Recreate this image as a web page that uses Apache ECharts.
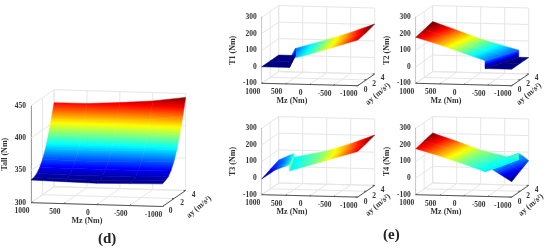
<!DOCTYPE html>
<html>
<head>
<meta charset="utf-8">
<style>html,body{margin:0;padding:0;background:#fff;overflow:hidden}#c{width:550px;height:250px;filter:blur(0.4px)}</style>
<script src="https://cdn.jsdelivr.net/npm/echarts@6/dist/echarts.min.js"></script>
</head>
<body>
<div id="c"></div>
<script>
// ---- tick labels ----
const mzTicks = [1000, 500, 0, -500, -1000];
const ayTicks = [0, 2, 4];
const tallTicks = [300, 350, 400, 450];
const torqueTicks = [-100, 0, 100, 200, 300];

// ---- panel (d): Tall(ay rows, Mz columns) ----
const tallAy = [0, 0.5, 1, 1.5, 2, 2.5, 3, 3.5, 4];
const tallMz = [1000, 500, 0, -500, -1000];
const tallValues = [
  [335, 334, 333, 334, 335],
  [336, 335, 334, 335, 337],
  [339, 338, 338, 338, 340],
  [345, 345, 345, 345, 347],
  [355, 354, 354, 355, 358],
  [368, 368, 368, 370, 373],
  [386, 386, 387, 389, 393],
  [407, 407, 408, 411, 417],
  [430, 430, 433, 437, 444]
];

// ---- panels (e): wheel torques, rows follow ay, repeated Mz marks the step ----
const wheelAy = [0, 2, 4];
const t1Mz = [
  [1000, 420, 420, 0, -500, -1000],
  [1000, 535, 535, 0, -500, -1000],
  [1000, 650, 650, 0, -500, -1000]
];
const t1Values = [
  [0, 0, 50, 84, 130, 177],
  [0, 0, 45, 90, 137, 187],
  [0, 0, 43, 100, 148, 203]
];
const t2Mz = [
  [1000, 500, 0, -444, -444, -1000],
  [1000, 500, 0, -620, -620, -1000],
  [1000, 500, 0, -792, -792, -1000]
];
const t2Values = [
  [179, 137, 90, 48, 0, 0],
  [190, 145, 97, 46, 0, 0],
  [203, 155, 105, 43, 0, 0]
];
const t3Mz = [
  [1000, 720, 424, 424, 0, -500, -1000],
  [1000, 700, 550, 550, 0, -500, -1000],
  [1000, 800, 680, 680, 0, -500, -1000]
];
const t3Values = [
  [-5, 51, 85, 47, 84, 130, 175],
  [17, 60, 82, 52, 90, 137, 187],
  [38, 65, 80, 58, 100, 148, 203]
];
const t3Shades = [
  [-5, 30, 72, 68, 90, 130, 175],
  [17, 45, 72, 68, 95, 137, 187],
  [38, 55, 75, 70, 105, 148, 203]
];
const t4Mz = [
  [1000, 500, 0, -444, -444, -720, -1000],
  [1000, 500, 0, -620, -620, -810, -1000],
  [1000, 500, 0, -792, -792, -900, -1000]
];
const t4Values = [
  [177, 137, 92, 49, 90, 42, -7],
  [190, 145, 97, 50, 91, 55, 22],
  [201, 155, 105, 55, 92, 72, 49]
];
const t4Shades = [
  [177, 137, 92, 68, 75, 30, -7],
  [190, 145, 97, 68, 65, 40, 15],
  [201, 155, 105, 70, 60, 50, 40]
];

// ---- layout and style ----
const FONT = '"Liberation Serif","DejaVu Serif",serif';
const TEXT = '#333';
const jetStops = ['#000080', '#0000ff', '#00ffff', '#ffff00', '#ff0000', '#800000'];
const jetPos = [0, 0.125, 0.375, 0.625, 0.875, 1];

const panels = [
  {name:'Tall (Nm)', ay:tallAy, mz:tallAy.map(()=>tallMz), t:tallValues, c:tallValues, ticks:tallTicks, interval:50,
   left:30, top:105.7, width:132.5, height:97, tilt:3.8, ax:23.3, ay2:-16, cmin:333, cmax:444, wall:0, gap:22,
   mzLab:[87,221], ayLab:[199,207]},
  {name:'T1 (Nm)', ay:wheelAy, mz:t1Mz, t:t1Values, c:t1Values, ticks:torqueTicks, interval:100,
   left:261.7, top:17.3, width:96, height:66, tilt:2.4, ax:17, ay2:-11.7, cmin:0, cmax:195, wall:0, gap:25,
   mzLab:[292,100.7], ayLab:[378,94]},
  {name:'T2 (Nm)', ay:wheelAy, mz:t2Mz, t:t2Values, c:t2Values, ticks:torqueTicks, interval:100,
   left:415.7, top:17.3, width:96, height:66, tilt:2.4, ax:17, ay2:-11.7, cmin:0, cmax:195, wall:0, gap:25,
   mzLab:[446,100.7], ayLab:[529,94]},
  {name:'T3 (Nm)', ay:wheelAy, mz:t3Mz, t:t3Values, c:t3Shades, ticks:torqueTicks, interval:100,
   left:261.7, top:128.3, width:96, height:66.4, tilt:2.4, ax:17, ay2:-11.7, cmin:-5, cmax:200, wall:25, gap:25,
   mzLab:[292,211.7], ayLab:[378,205]},
  {name:'T4 (Nm)', ay:wheelAy, mz:t4Mz, t:t4Values, c:t4Shades, ticks:torqueTicks, interval:100,
   left:415.7, top:128.3, width:96, height:66.4, tilt:2.4, ax:17, ay2:-11.7, cmin:-5, cmax:200, wall:20, gap:25,
   mzLab:[446,211.7], ayLab:[531,205]}
];

function jet(v) {
  const x = Math.max(0, Math.min(1, v));
  for (let k = 1; k < jetPos.length; k++) {
    if (x <= jetPos[k]) {
      return echarts.color.lerp((x - jetPos[k-1]) / (jetPos[k] - jetPos[k-1]), [jetStops[k-1], jetStops[k]]);
    }
  }
  return jetStops[jetStops.length - 1];
}

// oblique 3D view expressed through the panel's own value axes
function projector(p, api) {
  const tmin = p.ticks[0], tmax = p.ticks[p.ticks.length - 1];
  const pxPerT = p.height / (tmax - tmin);
  const pxPerMz = p.width / 2000;
  return function (mz, ay, t) {
    const u = (1000 - mz) / 2000, v = ay / 4;
    return api.coord([mz - v * p.ax / pxPerMz, t - u * p.tilt / pxPerT - v * p.ay2 / pxPerT]);
  };
}

function quadList(p) {
  const out = [];
  const cols = p.mz[0].length;
  for (let i = cols - 2; i >= 0; i--) {
    for (let j = p.ay.length - 2; j >= 0; j--) {
      out.push([
        p.mz[j][i], p.ay[j], p.t[j][i],
        p.mz[j][i+1], p.ay[j], p.t[j][i+1],
        p.mz[j+1][i+1], p.ay[j+1], p.t[j+1][i+1],
        p.mz[j+1][i], p.ay[j+1], p.t[j+1][i],
        p.mz[j][i] === p.mz[j][i+1] ? 1 : 0,
        p.c[j][i], p.c[j][i+1], p.c[j+1][i+1], p.c[j+1][i]
      ]);
    }
  }
  return out;
}

function fillFor(p, pts, ts, isWall) {
  const shift = isWall ? p.wall : 0;
  const vals = ts.map(t => t + shift);
  const n = pts.length;
  let mx=0,my=0,mt=0;
  for (let k=0;k<n;k++){mx+=pts[k][0];my+=pts[k][1];mt+=vals[k];}
  mx/=n;my/=n;mt/=n;
  let sxx=0,sxy=0,syy=0,sxt=0,syt=0;
  for (let k=0;k<n;k++){
    const dx=pts[k][0]-mx,dy=pts[k][1]-my,dt=vals[k]-mt;
    sxx+=dx*dx;sxy+=dx*dy;syy+=dy*dy;sxt+=dx*dt;syt+=dy*dt;
  }
  const det=sxx*syy-sxy*sxy;
  const range=p.cmax-p.cmin;
  if (Math.abs(det)<1e-3) return jet((mt-p.cmin)/range);
  const a=(sxt*syy-syt*sxy)/det,b=(syt*sxx-sxt*sxy)/det;
  const g2=a*a+b*b;
  if (g2<1e-8) return jet((mt-p.cmin)/range);
  const lo=Math.min.apply(null,vals),hi=Math.max.apply(null,vals);
  const x0=mx+a*(lo-mt)/g2,y0=my+b*(lo-mt)/g2,x1=mx+a*(hi-mt)/g2,y1=my+b*(hi-mt)/g2;
  const stops=[];
  for(let s=0;s<=12;s++){
    const f=s/12;
    stops.push({offset:f,color:jet((lo+(hi-lo)*f-p.cmin)/range)});
  }
  return {type:'linear',global:true,x:x0,y:y0,x2:x1,y2:y1,colorStops:stops};
}

function frameItem(p) {
  return function (params, api) {
    const P = projector(p, api);
    const tmin = p.ticks[0], tmax = p.ticks[p.ticks.length-1];
    const ch = [];
    const seg = (a, b, color, w) => ch.push({type:'line', shape:{x1:a[0],y1:a[1],x2:b[0],y2:b[1]}, style:{stroke:color, lineWidth:w||1}, silent:true});
    const gridC = '#e6e6e6', axis = '#555';
    mzTicks.forEach(m => {
      seg(P(m,0,tmin), P(m,4,tmin), gridC);
      seg(P(m,4,tmin), P(m,4,tmax), gridC);
    });
    ayTicks.forEach(a => {
      seg(P(1000,a,tmin), P(-1000,a,tmin), gridC);
      seg(P(1000,a,tmin), P(1000,a,tmax), gridC);
    });
    p.ticks.forEach(t => {
      seg(P(1000,0,t), P(1000,4,t), gridC);
      seg(P(1000,4,t), P(-1000,4,t), gridC);
    });
    seg(P(1000,0,tmin), P(-1000,0,tmin), axis);
    seg(P(-1000,0,tmin), P(-1000,4,tmin), axis);
    mzTicks.forEach(m => {
      const a = P(m,0,tmin), b = P(m,0.25,tmin);
      seg(a,b,axis);
      ch.push({type:'text', style:{x:a[0]-9, y:a[1]+8.5, text:String(m), fill:TEXT, font:'bold 7.5px '+FONT, align:'center', verticalAlign:'middle'}});
    });
    ayTicks.forEach(a => {
      const q = P(-1000,a,tmin);
      seg(q,[q[0]-2,q[1]],axis);
      ch.push({type:'text', style:{x:q[0]+8, y:q[1]+4.5, text:String(a), fill:TEXT, font:'bold 7.5px '+FONT, align:'center', verticalAlign:'middle'}});
    });
    ch.push({type:'text', style:{x:p.mzLab[0], y:p.mzLab[1], text:'Mz (Nm)', fill:TEXT, font:'bold 8px '+FONT, align:'center', verticalAlign:'middle'}});
    ch.push({type:'text', x:p.ayLab[0], y:p.ayLab[1], rotation:40*Math.PI/180, style:{x:0, y:0, text:'ay (m/s\u00b2)', fill:TEXT, font:'bold 8px '+FONT, align:'center', verticalAlign:'middle'}});
    return {type:'group', children:ch};
  };
}

function surfaceItem(p, quads) {
  return function (params, api) {
    const P = projector(p, api);
    const q = quads[params.dataIndex];
    const pts = [P(q[0],q[1],q[2]), P(q[3],q[4],q[5]), P(q[6],q[7],q[8]), P(q[9],q[10],q[11])];
    const fill = fillFor(p, pts, [q[13],q[14],q[15],q[16]], q[12] === 1);
    return {type:'polygon', shape:{points:pts}, style:{fill:fill, stroke:fill, lineWidth:0.5}, silent:true};
  };
}

const grid = [], xAxis = [], yAxis = [], series = [];
panels.forEach((p, i) => {
  grid.push({left:p.left, top:p.top, width:p.width, height:p.height, containLabel:false});
  xAxis.push({type:'value', gridIndex:i, min:-1000, max:1000, interval:500, inverse:true, show:false});
  yAxis.push({type:'value', gridIndex:i, min:p.ticks[0], max:p.ticks[p.ticks.length-1], interval:p.interval,
    name:p.name, nameLocation:'middle', nameGap:p.gap, nameRotate:90,
    nameTextStyle:{color:TEXT, fontFamily:FONT, fontWeight:'bold', fontSize:8},
    axisLine:{show:true, onZero:false, lineStyle:{color:'#555', width:1}},
    axisTick:{show:false},
    splitLine:{show:false},
    axisLabel:{color:TEXT, fontFamily:FONT, fontWeight:'bold', fontSize:7.5, margin:5, showMinLabel:true, showMaxLabel:true}
  });
  series.push({type:'custom', coordinateSystem:'cartesian2d', xAxisIndex:i, yAxisIndex:i, clip:false, silent:true, z:1,
    renderItem:frameItem(p), data:[[0, p.ticks[0]]], animation:false, encode:{x:0,y:1}});
  const quads = quadList(p);
  series.push({type:'custom', coordinateSystem:'cartesian2d', xAxisIndex:i, yAxisIndex:i, clip:false, silent:true, z:2,
    renderItem:surfaceItem(p, quads), data:quads, animation:false, encode:{x:0,y:2}});
});

const chart = echarts.init(document.getElementById('c'), null, {renderer:'canvas'});
chart.setOption({
  backgroundColor:'#fff',
  animation:false,
  title:[
    {text:'(d)', left:98, top:232, padding:0, textStyle:{fontFamily:FONT, fontSize:15, fontWeight:'bold', color:'#222'}},
    {text:'(e)', left:383, top:228, padding:0, textStyle:{fontFamily:FONT, fontSize:15, fontWeight:'bold', color:'#222'}}
  ],
  tooltip:{show:false},
  grid, xAxis, yAxis, series
});
</script>
</body>
</html>
